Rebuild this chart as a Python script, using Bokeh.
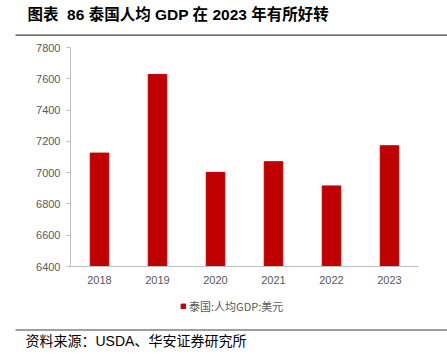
from bokeh.plotting import figure
from bokeh.models import Label, Legend, LegendItem, FixedTicker, Range1d
from bokeh.embed import file_html
from bokeh.resources import INLINE

years = ["2018", "2019", "2020", "2021", "2022", "2023"]
gdp = [7125, 7628, 7002, 7070, 6915, 7172]
y_ticks = [6400, 6600, 6800, 7000, 7200, 7400, 7600, 7800]

W = 447
FONT = "Liberation Sans, Noto Sans CJK SC"


def blank(h):
    f = figure(width=W, height=h, x_range=Range1d(0, W), y_range=Range1d(0, h),
               x_axis_type=None, y_axis_type=None, output_backend="svg",
               toolbar_location=None, min_border=0)
    f.outline_line_color = None
    f.grid.visible = False
    return f


# header
HH = 36
head = blank(HH)
head.add_layout(Label(x=27, y=HH - 14, x_units="screen", y_units="screen",
                      text="图表\u00a0\u00a086 泰国人均 GDP 在 2023 年有所好转",
                      text_font=FONT, text_font_style="bold", text_baseline="middle",
                      text_font_size="15.5px", text_color="#000000"))
head.segment(x0=[15], y0=[1.3], x1=[W], y1=[1.3], line_color="#404040", line_width=1.2)

# main chart
p = figure(x_range=years, y_range=Range1d(6400, 7800), width=W, height=254,
           output_backend="svg", toolbar_location=None,
           min_border_left=70, min_border_right=29, min_border_top=11, min_border_bottom=24)
p.outline_line_color = None
p.grid.visible = False

p.vbar(x=years, top=gdp, bottom=6400, width=0.32, fill_color="#C00000", line_color="#C00000")

p.yaxis.ticker = FixedTicker(ticks=y_ticks)
for ax in (p.xaxis, p.yaxis):
    ax.axis_line_color = "#BFBFBF"
    ax.major_tick_line_color = "#BFBFBF"
    ax.minor_tick_line_color = None
    ax.major_label_text_color = "#595959"
    ax.major_label_text_font = "Liberation Sans"
    ax.major_label_text_font_size = "11px"
p.yaxis.major_tick_in = 0
p.yaxis.major_tick_out = 4
p.yaxis.major_label_standoff = 6
p.xaxis.major_tick_line_color = None
p.xaxis.major_tick_in = 0
p.xaxis.major_tick_out = 0
p.xaxis.major_label_standoff = 9

# footer (legend for the series, drawn with a proxy renderer kept off-canvas)
FH = 65
foot = blank(FH)
proxy = foot.vbar(x=[-100], top=[-100], bottom=[-101], width=1,
                  fill_color="#C00000", line_color="#C00000")
legend = Legend(items=[LegendItem(label="泰国:人均GDP:美元", renderers=[proxy])],
                orientation="horizontal", border_line_color=None,
                label_text_font="Noto Sans CJK SC", label_text_font_size="11px",
                label_text_color="#595959", glyph_width=6, glyph_height=6,
                label_standoff=3, margin=0, padding=0, location=(180, 41),
                background_fill_alpha=0, label_height=16)
foot.add_layout(legend)
foot.segment(x0=[15], y0=[25.5], x1=[W], y1=[25.5], line_color="#404040", line_width=1.2)
foot.add_layout(Label(x=25, y=15, x_units="screen", y_units="screen",
                      text="资料来源：USDA、华安证券研究所", text_baseline="middle",
                      text_font=FONT, text_font_size="14px", text_color="#000000"))

open("out.html", "w").write(file_html([head, p, foot], INLINE))
